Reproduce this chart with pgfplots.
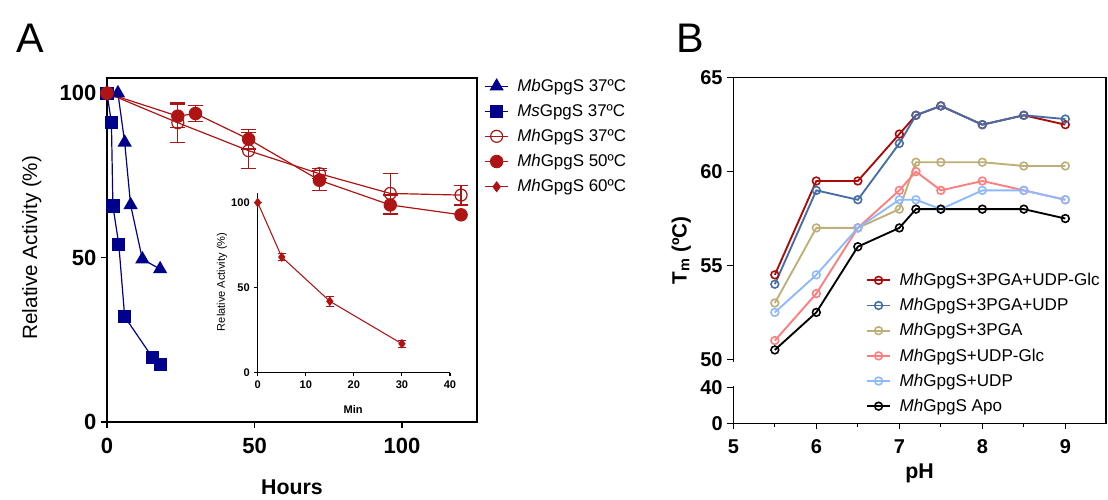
\documentclass[border=0pt]{standalone}
\usepackage{pgfplots}
\pgfplotsset{compat=1.18}
\usepackage{pgfplotstable}
\usepackage{fontspec}
\setmainfont{Liberation Sans}

\definecolor{navyA}{RGB}{0,0,140}
\definecolor{redA}{RGB}{175,20,20}
\definecolor{cRed}{RGB}{170,10,10}
\definecolor{cBlue}{RGB}{70,110,165}
\definecolor{cTan}{RGB}{190,175,120}
\definecolor{cPink}{RGB}{255,125,125}
\definecolor{cLight}{RGB}{140,185,255}

% panel A, hours
\pgfplotstableread{
x y
0 100
3.7 100
6 85
8 66
12 49.5
18 46.5
}\mbA
\pgfplotstableread{
x y
0 100
1.5 91
2 65.7
4 54
6 32
15.5 19.5
18 17.5
}\msA
\pgfplotstableread{
x y e
0 100 0
24 91 6
48 82.5 5.5
72 75.5 1.5
96 69.5 6
120 69 3
}\mhA
\pgfplotstableread{
x y e
0 100 0
24 93 3.5
30 93.8 2.5
48 86 3
72 73.5 3
96 66 3
120 63 0
}\mhB
% inset, minutes
\pgfplotstableread{
x y e
0 100 0
5 68 2
15 42 3
30 17 2
}\mhC
% panel B, Tm vs pH
\pgfplotstableread{
ph red blue tan pink light apo
5.5 54.5 54.0 53.0 51.0 52.5 50.5
6.0 59.5 59.0 57.0 53.5 54.5 52.5
6.5 59.5 58.5 57.0 57.0 57.0 56.0
7.0 62.0 61.5 58.0 59.0 58.5 57.0
7.2 63.0 63.0 60.5 60.0 58.5 58.0
7.5 63.5 63.5 60.5 59.0 58.0 58.0
8.0 62.5 62.5 60.5 59.5 59.0 58.0
8.5 63.0 63.0 60.3 59.0 59.0 58.0
9.0 62.5 62.8 60.3 58.5 58.5 57.5
}\tmB

\begin{document}
\begin{tikzpicture}
\useasboundingbox (0,0) rectangle (831pt,-375pt);

\node[font=\fontsize{31}{31}\selectfont] at (30*0.75pt,-38*0.75pt) {A};
\node[font=\fontsize{31}{31}\selectfont] at (690*0.75pt,-38*0.75pt) {B};

\begin{axis}[
  scale only axis, width=277.5pt, height=258pt,
  at={(80.25pt,-316.5pt)}, anchor=south west,
  xmin=0, xmax=125.4, ymin=0, ymax=104.6,
  xtick={0,50,100}, ytick={0,50,100},
  tick pos=left, tick align=outside, major tick length=4.5pt,
  axis line style={line width=0.9pt},
  every tick/.style={line width=0.9pt, black},
  /pgf/number format/assume math mode=true,
  ticklabel style={font=\fontsize{16.5}{16.5}\selectfont\bfseries},
  xticklabel style={yshift=-4pt},
  xlabel={Hours},
  xlabel style={font=\fontsize{16}{16}\selectfont\bfseries, at={(axis description cs:0.5,-0.19)}, anchor=center},
  ylabel={Relative Activity (\%)},
  ylabel style={font=\fontsize{15.5}{16}\selectfont, at={(axis description cs:-0.203,0.507)}, anchor=center},
  legend style={draw=none, fill=none, at={(axis description cs:1.02,1.005)}, anchor=north west,
    font=\fontsize{12.7}{14}\selectfont, row sep=4.2pt, column sep=4.5pt, inner sep=0pt},
  legend cell align=left,
  error bars/error bar style={line width=0.9pt},
]
\addplot[navyA, line width=0.9pt, mark=triangle*, mark size=5.3pt] table[x=x,y=y]{\mbA};
\addlegendentry{\textit{Mb}GpgS 37ºC}
\addplot[navyA, line width=0.9pt, mark=square*, mark size=4.5pt] table[x=x,y=y]{\msA};
\addlegendentry{\textit{Ms}GpgS 37ºC}
\addplot[redA, line width=0.9pt, mark=o, mark size=4.5pt, mark options={fill=white},
  error bars/.cd, y dir=both, y explicit,
  error mark options={rotate=90, mark size=5.5pt, line width=0.9pt, redA}]
  table[x=x,y=y,y error=e]{\mhA};
\addlegendentry{\textit{Mh}GpgS 37ºC}
\addplot[redA, line width=0.9pt, mark=*, mark size=4.6pt,
  error bars/.cd, y dir=both, y explicit,
  error mark options={rotate=90, mark size=5.5pt, line width=0.9pt, redA}]
  table[x=x,y=y,y error=e]{\mhB};
\addlegendentry{\textit{Mh}GpgS 50ºC}
\addlegendimage{redA, line width=0.9pt, mark=diamond*, mark size=3.5pt}
\addlegendentry{\textit{Mh}GpgS 60ºC}
\end{axis}

\begin{axis}[
  scale only axis, width=144.2pt, height=134.55pt,
  at={(193.3pt,-279.5pt)}, anchor=south west,
  xmin=0, xmax=40, ymin=0, ymax=105.5,
  axis x line=bottom, axis y line=left, axis line style={-, line width=0.8pt},
  xtick={0,10,20,30,40}, ytick={0,50,100},
  tick align=outside, major tick length=2.5pt,
  every tick/.style={line width=0.8pt, black},
  /pgf/number format/assume math mode=true,
  ticklabel style={font=\fontsize{8.3}{9}\selectfont\bfseries},
  xlabel={Min},
  xlabel style={font=\fontsize{8.3}{9}\selectfont\bfseries, at={(axis description cs:0.496,-0.208)}, anchor=center},
  ylabel={Relative Activity (\%)},
  ylabel style={font=\fontsize{8.3}{9}\selectfont, at={(axis description cs:-0.186,0.506)}, anchor=center},
]
\addplot[redA, line width=0.8pt, mark=diamond*, mark size=3pt,
  error bars/.cd, y dir=both, y explicit, error bar style={line width=0.7pt},
  error mark options={rotate=90, mark size=3pt, line width=0.7pt, redA}]
  table[x=x,y=y,y error=e]{\mhC};
\end{axis}

\begin{axis}[
  scale only axis, width=279.5pt, height=259.2pt,
  at={(550pt,-317.5pt)}, anchor=south west,
  xmin=5, xmax=9.49, ymin=46.59, ymax=65,
  xtick={5,6,7,8,9}, minor x tick num=1,
  ytick={46.59,48.49,50,55,60,65}, yticklabels={0,40,50,55,60,65},
  tick pos=left, tick align=outside, major tick length=4.5pt, minor tick length=2.5pt,
  axis line style={line width=0.9pt},
  every tick/.style={line width=0.9pt, black},
  /pgf/number format/assume math mode=true,
  ticklabel style={font=\fontsize{15}{15}\selectfont\bfseries},
  xticklabel style={yshift=-4pt},
  xlabel={pH},
  xlabel style={font=\fontsize{16}{16}\selectfont\bfseries, at={(axis description cs:0.5,-0.144)}, anchor=center},
  ylabel={T\textsubscript{m} (ºC)},
  ylabel style={font=\fontsize{15.5}{16}\selectfont\bfseries, at={(axis description cs:-0.14,0.5)}, anchor=center},
  legend style={draw=none, fill=none, at={(axis description cs:0.356,0.443)}, anchor=north west,
    font=\fontsize{12.8}{14}\selectfont, row sep=4.1pt, column sep=4.5pt, inner sep=0pt},
  legend cell align=left,
  every axis plot/.append style={line width=1.4pt, mark=o, mark size=2.9pt, mark options={fill=white, line width=1.2pt}},
]
\addplot[cRed] table[x=ph,y=red]{\tmB};
\addlegendentry{\textit{Mh}GpgS+3PGA+UDP-Glc}
\addplot[cBlue] table[x=ph,y=blue]{\tmB};
\addlegendentry{\textit{Mh}GpgS+3PGA+UDP}
\addplot[cTan] table[x=ph,y=tan]{\tmB};
\addlegendentry{\textit{Mh}GpgS+3PGA}
\addplot[cPink] table[x=ph,y=pink]{\tmB};
\addlegendentry{\textit{Mh}GpgS+UDP-Glc}
\addplot[cLight] table[x=ph,y=light]{\tmB};
\addlegendentry{\textit{Mh}GpgS+UDP}
\addplot[black] table[x=ph,y=apo]{\tmB};
\addlegendentry{\textit{Mh}GpgS Apo}
\end{axis}
% break in the left axis of panel B, between 40 and 50
\draw[white, line width=3pt] (550pt,-271.5pt) -- (550pt,-289.5pt);
\end{tikzpicture}
\end{document}
